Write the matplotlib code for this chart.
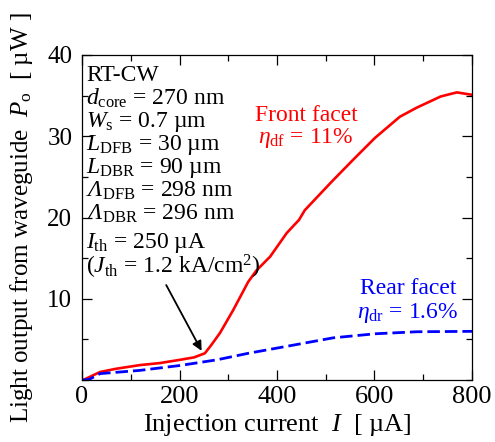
import matplotlib
matplotlib.use("Agg")
import matplotlib.pyplot as plt
from matplotlib.ticker import MultipleLocator

plt.rcParams['font.family'] = ['Liberation Serif', 'DejaVu Serif']
plt.rcParams['mathtext.fontset'] = 'custom'
plt.rcParams['mathtext.rm'] = 'Liberation Serif'
plt.rcParams['mathtext.it'] = 'Liberation Serif:italic'
plt.rcParams['mathtext.bf'] = 'Liberation Serif:bold'
plt.rcParams['mathtext.sf'] = 'Liberation Serif:italic'

# Front facet (red, solid)
front_I = [2, 16, 37, 70, 119, 160, 201, 230, 252, 265, 283, 310, 341, 358, 386, 420, 445, 457,
           512, 556, 601, 652, 686, 736, 769, 800]
front_P = [0.0, 0.4, 1.0, 1.4, 1.85, 2.1, 2.5, 2.8, 3.3, 4.3, 5.8, 8.6, 12.1, 13.5, 15.2, 18.1, 19.7, 20.9,
           24.4, 27.1, 29.8, 32.4, 33.5, 34.9, 35.4, 35.1]
# Rear facet (blue, dashed)
rear_I = [0, 15, 37, 119, 201, 277, 341, 433, 515, 601, 687, 800]
rear_P = [0.0, 0.1, 0.8, 1.2, 1.8, 2.5, 3.3, 4.3, 5.2, 5.7, 5.95, 6.0]

fig = plt.figure(figsize=(4.95, 4.42), dpi=100)
ax = fig.add_axes([0.1657, 0.140, 0.7878, 0.7356])

ax.plot(front_I, front_P, color='#ff0000', lw=1.9, solid_joinstyle='round')
ax.plot(rear_I, rear_P, color='#0000ff', lw=2.0, dashes=(4.5, 1.8))

ax.set_xlim(0, 800)
ax.set_ylim(0, 40)
ax.xaxis.set_major_locator(MultipleLocator(200))
ax.xaxis.set_minor_locator(MultipleLocator(100))
ax.yaxis.set_major_locator(MultipleLocator(10))
ax.yaxis.set_minor_locator(MultipleLocator(5))
ax.tick_params(which='both', direction='in', top=True, right=True, width=0.9)
ax.tick_params(axis='x', labelsize=19)
ax.tick_params(axis='y', labelsize=18)
ax.tick_params(which='major', length=7)
ax.tick_params(axis='y', which='major', pad=7)
ax.tick_params(axis='x', which='major', pad=4)
ax.tick_params(which='minor', length=4)
ax.set_yticks([10, 20, 30, 40])
ax.set_yticklabels(['10', '20', '30', '40'])
for s in ax.spines.values():
    s.set_linewidth(0.9)

ax.set_xlabel(r'Injection current  $I$  [ µA]', fontsize=19, labelpad=3)
ax.set_ylabel(r'Light output from waveguide  $P_{\rm o}$  [ µW ]', fontsize=18, labelpad=9)

lines = ['RT-CW',
         r'$d_{\rm core}$ = 270 nm',
         r'$W_{\rm s}$ = 0.7 µm',
         r'$L_{\rm DFB}$ = 30 µm',
         r'$L_{\rm DBR}$ = 90 µm',
         r'$\mathsf{Λ}_{\rm DFB}$ = 298 nm',
         r'$\mathsf{Λ}_{\rm DBR}$ = 296 nm']
y0 = 37.5
for i, t in enumerate(lines):
    ax.text(8, y0 - i * 2.85, t, fontsize=17, ha='left', va='center')

ax.text(8, 16.9, r'$I_{\rm th}$ = 250 µA', fontsize=17, ha='left', va='center')
ax.text(8, 13.9, r'($J_{\rm th}$ = 1.2 kA/cm$^{2}$)', fontsize=17, ha='left', va='center')
ax.annotate('', xy=(248, 3.3), xytext=(170, 12.0),
            arrowprops=dict(arrowstyle='-|>', color='black', lw=1.3, mutation_scale=14))

ax.text(460, 32.6, 'Front facet', color='#ff0000', fontsize=17, ha='center', va='center')
ax.text(460, 29.8, r'$\eta_{\rm df}$ = 11%', color='#ff0000', fontsize=17, ha='center', va='center')
ax.text(669, 11.3, 'Rear facet', color='#0000ff', fontsize=17, ha='center', va='center')
ax.text(669, 8.3, r'$\eta_{\rm dr}$ = 1.6%', color='#0000ff', fontsize=17, ha='center', va='center')

fig.savefig('out.png', dpi=100)
